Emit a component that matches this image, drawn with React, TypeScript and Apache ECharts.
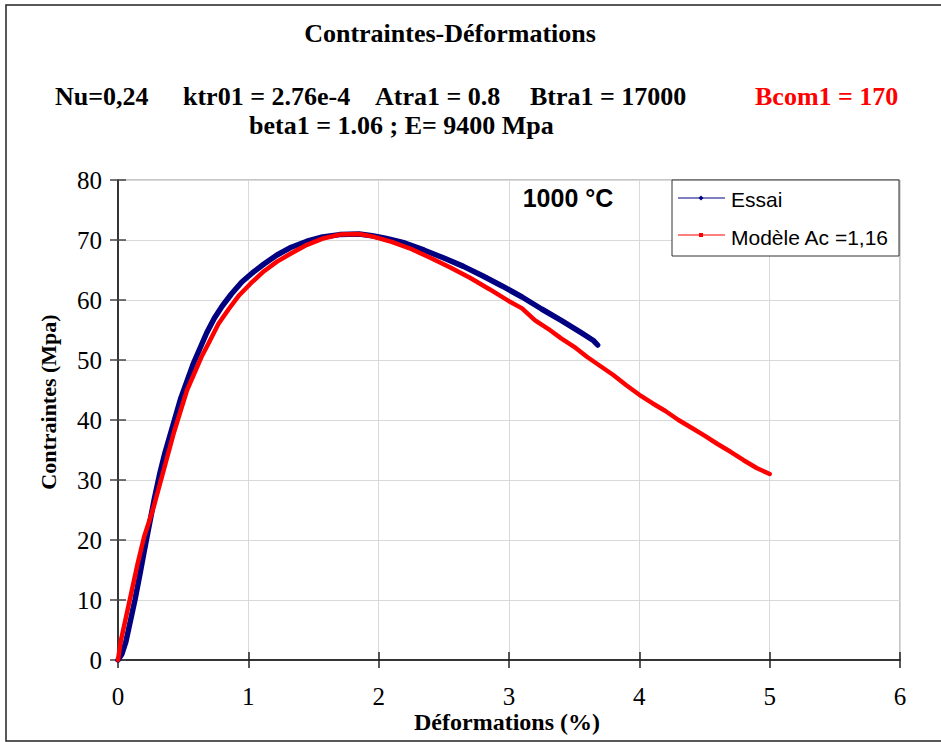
import React, { useEffect, useRef } from "react";
import * as echarts from "echarts";

const titleText = "Contraintes-Déformations";
const paramTexts = ["Nu=0,24", "ktr01 = 2.76e-4", "Atra1 = 0.8", "Btra1 = 17000"];
const paramRed = "Bcom1 = 170";
const paramLine2 = "beta1 = 1.06 ; E= 9400 Mpa";
const tempLabel = "1000 °C";
const xTitle = "Déformations (%)";
const yTitle = "Contraintes (Mpa)";
const seriesNames = ["Essai", "Modèle Ac =1,16"];

const essaiData: number[][] = [
  [0, 0], [0.03, 1], [0.06, 3], [0.1, 7], [0.13, 10], [0.17, 14.5], [0.2, 18],
  [0.24, 22.5], [0.28, 27], [0.32, 31], [0.36, 34.5], [0.4, 37.5], [0.44, 40.5],
  [0.48, 43.5], [0.53, 46.5], [0.58, 49.5], [0.63, 52], [0.68, 54.5], [0.74, 57],
  [0.8, 59], [0.87, 61], [0.95, 63], [1.03, 64.5], [1.12, 66], [1.22, 67.5],
  [1.33, 68.8], [1.45, 69.8], [1.57, 70.5], [1.7, 70.9], [1.85, 71], [1.95, 70.7],
  [2.05, 70.3], [2.2, 69.5], [2.35, 68.3], [2.5, 67], [2.65, 65.6], [2.8, 64],
  [2.95, 62.3], [3.1, 60.5], [3.25, 58.5], [3.4, 56.6], [3.55, 54.6], [3.65, 53.2],
  [3.68, 52.5],
];

const modeleData: number[][] = [
  [0, 0], [0.02, 3], [0.05, 6], [0.1, 11], [0.15, 16], [0.2, 20.5], [0.245, 23.5],
  [0.28, 26], [0.33, 30], [0.38, 34], [0.43, 38], [0.48, 41.5], [0.53, 45],
  [0.58, 47.5], [0.64, 50.5], [0.7, 53], [0.77, 56], [0.85, 58.5], [0.93, 60.8],
  [1.02, 62.8], [1.12, 64.8], [1.22, 66.4], [1.33, 67.8], [1.45, 69.2], [1.58, 70.3],
  [1.7, 70.9], [1.85, 71], [1.95, 70.6], [2.1, 69.7], [2.25, 68.5], [2.4, 67],
  [2.55, 65.4], [2.7, 63.7], [2.85, 61.8], [3.0, 59.8], [3.1, 58.6], [3.2, 56.6],
  [3.3, 55.2], [3.4, 53.6], [3.5, 52.2], [3.6, 50.5], [3.7, 49], [3.8, 47.5],
  [3.9, 45.8], [4.0, 44.2], [4.1, 42.8], [4.2, 41.5], [4.3, 40], [4.4, 38.7],
  [4.5, 37.4], [4.6, 36], [4.7, 34.7], [4.8, 33.3], [4.9, 32], [5.0, 31],
];

const NAVY = "#000080";
const RED = "#ff0000";
const SERIF = '"Liberation Serif", "Times New Roman", serif';
const SANS = '"Liberation Sans", Arial, sans-serif';

export default function App() {
  const ref = useRef<HTMLDivElement>(null);
  useEffect(() => {
    if (!ref.current) return;
    const chart = echarts.init(ref.current, undefined, { renderer: "svg" });
    const headFont = `bold 26px ${SERIF}`;
    const paramX = [55, 183, 375, 530];
    const LZ = 100;
    chart.setOption({
      animation: false,
      backgroundColor: "#ffffff",
      grid: {
        left: 118,
        top: 180,
        right: 41,
        bottom: 82,
        show: true,
        borderColor: "#8c8c8c",
        borderWidth: 1,
        backgroundColor: "transparent",
      },
      xAxis: [
        {
          type: "value",
          position: "bottom",
          min: 0,
          max: 6,
          interval: 1,
          axisLine: { show: true, onZero: false, lineStyle: { color: "#000", width: 1.5 } },
          axisTick: { show: true, inside: false, length: 8, lineStyle: { color: "#222", width: 1.5 } },
          axisLabel: { fontFamily: SERIF, fontSize: 25, lineHeight: 18, color: "#000", margin: 27 },
          splitLine: { show: true, lineStyle: { color: "#d9d9d9", width: 1 } },
        },
        {
          type: "value",
          position: "bottom",
          min: 0,
          max: 6,
          interval: 1,
          axisLine: { show: false, onZero: false },
          axisTick: { show: true, inside: true, length: 8, lineStyle: { color: "#222", width: 1.5 } },
          axisLabel: { show: false },
          splitLine: { show: false },
        },
      ],
      yAxis: [
        {
          type: "value",
          position: "left",
          min: 0,
          max: 80,
          interval: 10,
          axisLine: { show: true, onZero: false, lineStyle: { color: "#000", width: 1.5 } },
          axisTick: { show: true, inside: false, length: 8, lineStyle: { color: "#444", width: 1.5 } },
          axisLabel: { fontFamily: SERIF, fontSize: 25, color: "#000", margin: 16 },
          splitLine: { show: true, lineStyle: { color: "#d9d9d9", width: 1 } },
        },
        {
          type: "value",
          position: "left",
          min: 0,
          max: 80,
          interval: 10,
          axisLine: { show: false, onZero: false },
          axisTick: { show: true, inside: true, length: 8, lineStyle: { color: "#444", width: 1.5 } },
          axisLabel: { show: false },
          splitLine: { show: false },
        },
      ],
      series: [
        {
          name: seriesNames[0],
          type: "line",
          data: essaiData,
          symbol: "none",
          lineStyle: { color: NAVY, width: 5.5, join: "round", cap: "round" },
          z: 2,
        },
        {
          name: seriesNames[1],
          type: "line",
          data: modeleData,
          symbol: "none",
          lineStyle: { color: RED, width: 4.5, join: "round", cap: "round" },
          z: 3,
        },
      ],
      graphic: [
        {
          type: "rect",
          z: 0,
          silent: true,
          shape: { x: 6, y: 5, width: 960, height: 736 },
          style: { fill: "none", stroke: "#222", lineWidth: 1.5 },
        },
        {
          type: "text",
          x: 450,
          y: 33,
          style: { text: titleText, font: headFont, fill: "#000", textAlign: "center", textVerticalAlign: "middle" },
        },
        ...paramTexts.map((t, i) => ({
          type: "text",
          x: paramX[i],
          y: 96,
          style: { text: t, font: headFont, fill: "#000", textAlign: "left", textVerticalAlign: "middle" },
        })),
        {
          type: "text",
          x: 755,
          y: 96,
          style: { text: paramRed, font: headFont, fill: RED, textAlign: "left", textVerticalAlign: "middle" },
        },
        {
          type: "text",
          x: 249,
          y: 125,
          style: { text: paramLine2, font: headFont, fill: "#000", textAlign: "left", textVerticalAlign: "middle" },
        },
        {
          type: "text",
          x: 568,
          y: 198,
          z: 50,
          style: { text: tempLabel, font: `bold 25px ${SANS}`, fill: "#000", textAlign: "center", textVerticalAlign: "middle" },
        },
        {
          type: "text",
          x: 507,
          y: 722,
          style: { text: xTitle, font: `bold 24px ${SERIF}`, lineHeight: 18, fill: "#000", textAlign: "center", textVerticalAlign: "middle" },
        },
        {
          type: "text",
          x: 48,
          y: 402,
          rotation: Math.PI / 2,
          style: { text: yTitle, font: `bold 22px ${SERIF}`, fill: "#000", textAlign: "center", textVerticalAlign: "middle" },
        },
        {
          type: "rect",
          z: LZ,
          shape: { x: 672, y: 180, width: 227, height: 76 },
          style: { fill: "#fff", stroke: "#333", lineWidth: 1 },
        },
        {
          type: "line",
          z: LZ + 1,
          shape: { x1: 678, y1: 198, x2: 725, y2: 198 },
          style: { stroke: NAVY, lineWidth: 1.2 },
        },
        {
          type: "polygon",
          z: LZ + 2,
          shape: { points: [[701, 195.5], [703.5, 198], [701, 200.5], [698.5, 198]] },
          style: { fill: NAVY },
        },
        {
          type: "text",
          z: LZ + 1,
          x: 731,
          y: 199,
          style: { text: seriesNames[0], font: `21px ${SANS}`, fill: "#000", textAlign: "left", textVerticalAlign: "middle" },
        },
        {
          type: "line",
          z: LZ + 1,
          shape: { x1: 678, y1: 235, x2: 725, y2: 235 },
          style: { stroke: RED, lineWidth: 1.2 },
        },
        {
          type: "rect",
          z: LZ + 2,
          shape: { x: 699, y: 233, width: 4, height: 4 },
          style: { fill: RED },
        },
        {
          type: "text",
          z: LZ + 1,
          x: 731,
          y: 237,
          style: { text: seriesNames[1], font: `21px ${SANS}`, fill: "#000", textAlign: "left", textVerticalAlign: "middle" },
        },
      ],
    });
    return () => chart.dispose();
  }, []);
  return (
    <div
      ref={ref}
      style={{ position: "absolute", left: 0, top: 0, width: 941, height: 742, background: "#fff" }}
    />
  );
}
